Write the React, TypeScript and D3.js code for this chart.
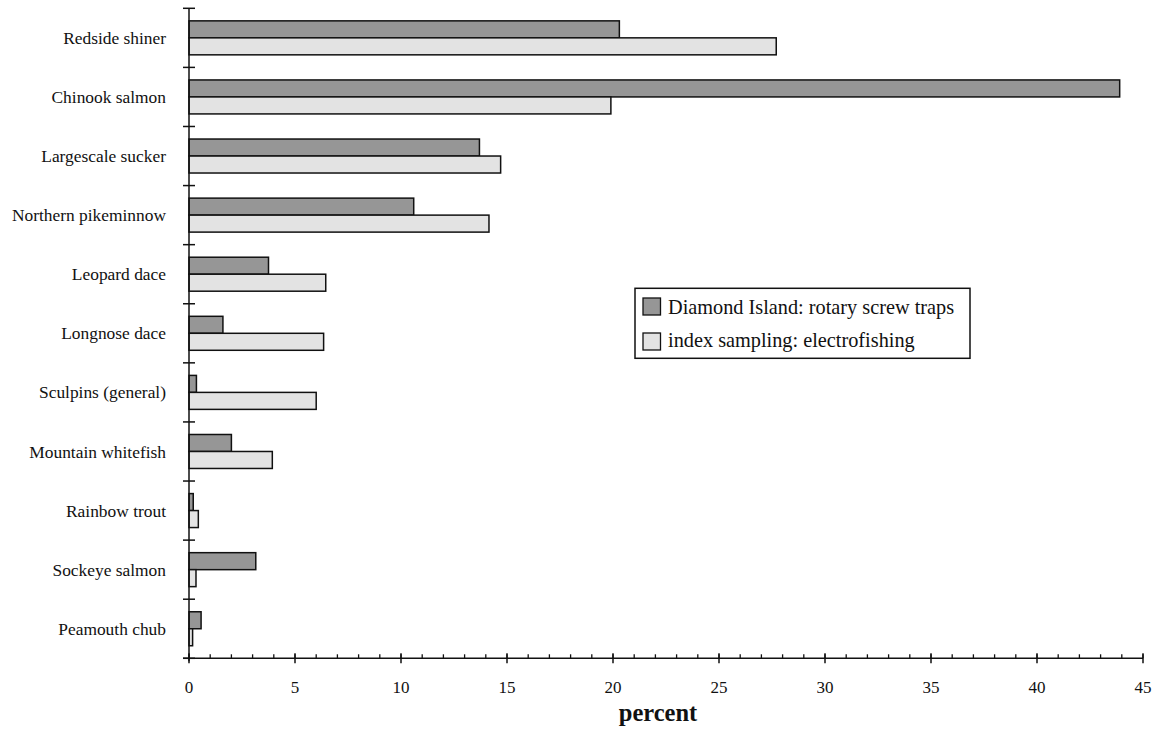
import React from "react";
import * as d3 from "d3";

const categories = [
  "Redside shiner",
  "Chinook salmon",
  "Largescale sucker",
  "Northern pikeminnow",
  "Leopard dace",
  "Longnose dace",
  "Sculpins (general)",
  "Mountain whitefish",
  "Rainbow trout",
  "Sockeye salmon",
  "Peamouth chub",
];
const screwTraps = [20.3, 43.9, 13.7, 10.6, 3.75, 1.6, 0.35, 2.0, 0.2, 3.15, 0.57];
const electrofishing = [27.7, 19.9, 14.7, 14.15, 6.45, 6.35, 6.0, 3.93, 0.44, 0.33, 0.17];
const seriesNames = ["Diamond Island: rotary screw traps", "index sampling: electrofishing"];
const seriesColors = ["#969696", "#e3e3e3"];
const xTicks = [0, 5, 10, 15, 20, 25, 30, 35, 40, 45];
const xLabel = "percent";

const W = 1155;
const H = 729;
const left = 189;
const right = 1143;
const top = 8.3;
const bottom = 658.3;
const FONT = "Liberation Serif, Times New Roman, serif";

export default function App() {
  const x = d3.scaleLinear().domain([0, 45]).range([left, right]);
  const y = d3.scaleBand<string>().domain(categories).range([top, bottom]).paddingInner(0).paddingOuter(0);
  const bw = y.bandwidth();
  const groupH = bw * 0.575;
  const sub = d3.scaleBand<number>().domain([0, 1]).range([0, groupH]);
  const series = [screwTraps, electrofishing];
  const minor = d3.range(0, 46, 1);
  const catTicks = d3.range(0, categories.length + 1).map((i) => top + i * bw);

  return (
    <svg width={W} height={H} style={{ position: "absolute", left: 0, top: 0, background: "#fff", fontFamily: FONT }}>
      {categories.map((c, i) => {
        const y0 = (y(c) as number) + (bw - groupH) / 2;
        return (
          <g key={c}>
            {series.map((s, k) => (
              <rect
                key={k}
                x={x(0)}
                y={y0 + (sub(k) as number)}
                width={x(s[i]) - x(0)}
                height={sub.bandwidth()}
                fill={seriesColors[k]}
                stroke="#111"
                strokeWidth={1.5}
              />
            ))}
            <text x={166} y={(y(c) as number) + bw / 2} dy="0.35em" textAnchor="end" fontSize={17.4} fill="#111">
              {c}
            </text>
          </g>
        );
      })}
      {/* y axis */}
      <line x1={left} x2={left} y1={top} y2={bottom + 3} stroke="#111" strokeWidth={1.5} />
      {catTicks.map((t, i) => (
        <line key={i} x1={left - 6} x2={left + 6} y1={t} y2={t} stroke="#111" strokeWidth={1.5} />
      ))}
      {/* x axis */}
      <line x1={left - 6} x2={right} y1={bottom} y2={bottom} stroke="#111" strokeWidth={1.5} />
      {minor.map((m) => (
        <line key={"m" + m} x1={x(m)} x2={x(m)} y1={bottom - 4} y2={bottom} stroke="#111" strokeWidth={1.3} />
      ))}
      {xTicks.map((t) => (
        <g key={t}>
          <line x1={x(t)} x2={x(t)} y1={bottom - 5} y2={bottom + 5} stroke="#111" strokeWidth={1.5} />
          <text x={x(t)} y={693} textAnchor="middle" fontSize={17} fill="#111">
            {t}
          </text>
        </g>
      ))}
      <text x={658} y={721} textAnchor="middle" fontSize={24.5} fontWeight="bold" fill="#111">
        {xLabel}
      </text>
      {/* legend */}
      <rect x={635} y={288.3} width={335} height={70} fill="#fff" stroke="#111" strokeWidth={1.5} />
      {seriesNames.map((n, k) => (
        <g key={n}>
          <rect x={643} y={298 + k * 35} width={17.5} height={17} fill={seriesColors[k]} stroke="#111" strokeWidth={1.3} />
          <text x={668} y={313.5 + k * 33.5} fontSize={20.3} fill="#111">
            {n}
          </text>
        </g>
      ))}
    </svg>
  );
}
